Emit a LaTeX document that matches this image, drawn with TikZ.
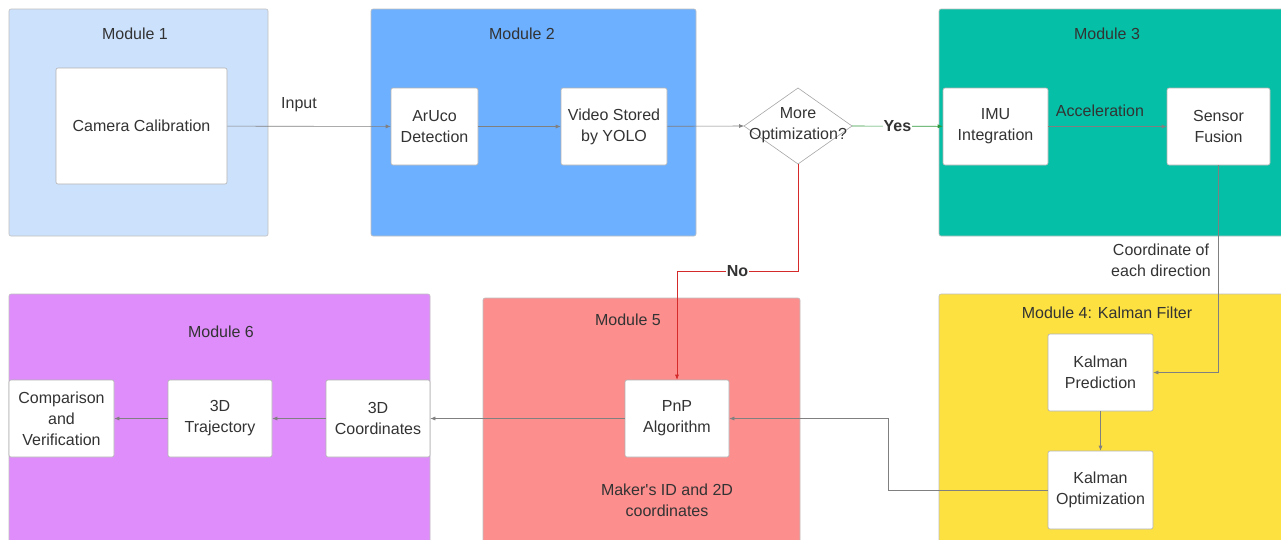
\documentclass[tikz,border=0pt]{standalone}
\usepackage{fontspec}
\setmainfont{Liberation Sans}
\usetikzlibrary{arrows.meta}

\definecolor{modone}{HTML}{CCE1FC}
\definecolor{modtwo}{HTML}{6CB0FF}
\definecolor{modthree}{HTML}{05BFA6}
\definecolor{modfour}{HTML}{FDE140}
\definecolor{modfive}{HTML}{FC8E8E}
\definecolor{modsix}{HTML}{DE8DFA}
\definecolor{txtgray}{HTML}{333333}
\definecolor{yesgreen}{HTML}{2F9A3C}
\definecolor{nored}{HTML}{D42A2A}

\begin{document}
\begin{tikzpicture}[x=1pt,y=-1pt,
	font=\fontsize{16}{21}\selectfont,text=txtgray,
	module/.style={draw=black!25,line width=0.6pt,rounded corners=2pt},
	title/.style={inner sep=0pt},
	box/.style={draw=black!30,fill=white,line width=0.6pt,rounded corners=2pt,align=center,inner sep=2pt},
	link/.style={draw=black!50,line width=0.6pt,-{Latex[length=5pt,width=4pt]}},
	tag/.style={fill=white,inner sep=1pt,font=\fontsize{16}{21}\selectfont\bfseries}]

\clip (0,0) rectangle (1281,539);

\def\modul#1#2#3{
	\draw[module,fill=#1] #2 rectangle #3;
}

% modules
\modul{modone}{(9,9)}{(268,236)}
\modul{modtwo}{(371,9)}{(696,236)}
\modul{modthree}{(939,9)}{(1295,236)}
\modul{modfour}{(939,294)}{(1295,550)}
\modul{modfive}{(483,298)}{(800,550)}
\modul{modsix}{(9,294)}{(430,550)}

\node[title] (t1) at (135,34) {Module 1};
\node[title] (t2) at (522,34) {Module 2};
\node[title] (t3) at (1107,34) {Module 3};
\node[title] (t4) at (1107,313) {Module 4: Kalman Filter};
\node[title] (t5) at (628,320) {Module 5};
\node[title] (t6) at (221,332) {Module 6};

% boxes
\node[box,minimum width=171pt,minimum height=116pt] (cam) at (141.5,126) {Camera Calibration};
\node[box,minimum width=87pt,minimum height=77pt] (aruco) at (434.5,126.5) {ArUco\\Detection};
\node[box,minimum width=106pt,minimum height=77pt] (video) at (614,126.5) {Video Stored\\by YOLO};
\node[box,minimum width=105pt,minimum height=77pt] (imu) at (995.5,126.5) {IMU\\Integration};
\node[box,minimum width=103pt,minimum height=77pt] (fusion) at (1218.5,126.5) {Sensor\\Fusion};
\node[box,minimum width=105pt,minimum height=77pt] (kpred) at (1100.5,372.5) {Kalman\\Prediction};
\node[box,minimum width=105pt,minimum height=78pt] (kopt) at (1100.5,490) {Kalman\\Optimization};
\node[box,minimum width=104pt,minimum height=77pt] (pnp) at (677,418.5) {PnP\\Algorithm};
\node[box,minimum width=104pt,minimum height=77pt] (coord) at (378,418.5) {3D\\Coordinates};
\node[box,minimum width=104pt,minimum height=77pt] (traj) at (220,418.5) {3D\\Trajectory};
\node[box,minimum width=105pt,minimum height=77pt] (comp) at (61.5,418.5) {Comparison\\and\\Verification};

% decision
\coordinate (optN) at (798,88);
\coordinate (optE) at (852,126);
\coordinate (optS) at (798,164);
\coordinate (optW) at (744,126);
\draw[draw=black!35,line width=0.6pt] (optN) -- (optE) -- (optS) -- (optW) -- cycle;
\node[align=center,inner sep=0pt] (opt) at (798,125) {More\\Optimization?};

% connectors
\draw[link] (cam) -- (aruco);
\node[inner sep=0pt] (input) at (299,105) {Input};
\draw[link] (aruco) -- (video);
\draw[link] (video) -- (optW);
\draw[link,draw=yesgreen] (optE) -- (imu) node[tag,midway] (yes) {Yes};
\draw[link] (imu) -- (fusion);
\node[inner sep=0pt] (accel) at (1100,111) {Acceleration};
\draw[link] (fusion.south) |- (kpred.east);
\node[align=center,inner sep=0pt] (dirlabel) at (1161,260) {Coordinate of\\each direction};
\draw[link] (kpred) -- (kopt);
\draw[link] (kopt.west) -- ++(-159,0) |- (pnp.east);
\coordinate (nocorner) at (798,271);
\draw[link,draw=nored] (optS) -- (nocorner) -| (pnp.north) node[tag,pos=0.25] (no) {No};
\draw[link] (pnp) -- (coord);
\draw[link] (coord) -- (traj);
\draw[link] (traj) -- (comp);
\node[align=center,inner sep=0pt] (maker) at (667,500) {Maker\textquotesingle s ID and 2D\\coordinates};

\end{tikzpicture}
\end{document}
